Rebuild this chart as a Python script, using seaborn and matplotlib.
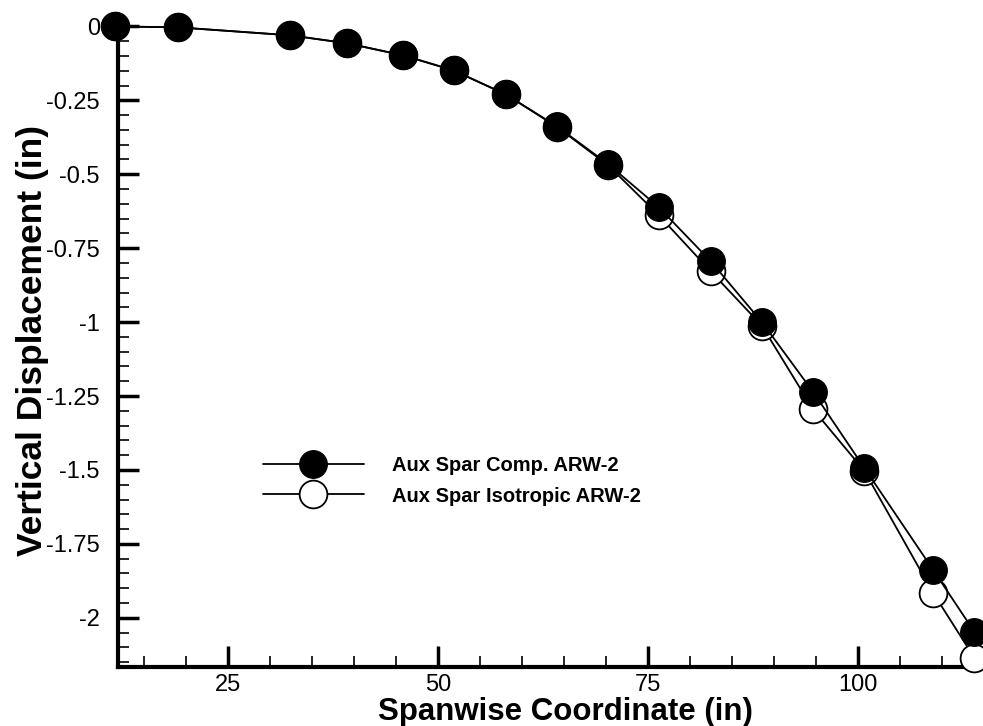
import numpy as np
import pandas as pd
import matplotlib
matplotlib.use('Agg')
import matplotlib.pyplot as plt
import seaborn as sns
from matplotlib.ticker import MultipleLocator, FixedLocator, FuncFormatter

# spanwise stations (in)
span = [11.6, 19.0, 32.4, 39.2, 45.9, 51.9, 58.1, 64.2, 70.3, 76.3, 82.5, 88.6, 94.7, 100.8, 109.0, 113.9]
# vertical displacement (in)
comp_disp = [0.0, -0.003, -0.030, -0.057, -0.098, -0.149, -0.230, -0.338, -0.466,
             -0.611, -0.794, -1.000, -1.236, -1.493, -1.838, -2.047]
iso_disp = [0.0, -0.003, -0.030, -0.057, -0.098, -0.149, -0.230, -0.340, -0.470,
            -0.638, -0.828, -1.012, -1.295, -1.503, -1.916, -2.135]

labels = ['Aux Spar Comp. ARW-2', 'Aux Spar Isotropic ARW-2']
y_ticks = [0, -0.25, -0.5, -0.75, -1, -1.25, -1.5, -1.75, -2]
x_ticks = [25, 50, 75, 100]

sns.set_style('ticks', {'axes.edgecolor': 'black', 'text.color': 'black',
                        'axes.labelcolor': 'black', 'xtick.color': 'black',
                        'ytick.color': 'black'})
plt.rcParams['font.family'] = ['Liberation Sans', 'DejaVu Sans']
plt.rcParams['axes.unicode_minus'] = False

fig = plt.figure(figsize=(9.83, 7.26), dpi=100)
ax = fig.add_axes([0.12, 0.081, 0.872, 0.883])

df_iso = pd.DataFrame({'x': span, 'y': iso_disp})
df_comp = pd.DataFrame({'x': span, 'y': comp_disp})

sns.lineplot(data=df_iso, x='x', y='y', ax=ax, color='black', lw=1.3,
             marker='o', markersize=20, markerfacecolor='white',
             markeredgecolor='black', markeredgewidth=1.3, label=labels[1],
             zorder=3, clip_on=False)
sns.lineplot(data=df_comp, x='x', y='y', ax=ax, color='black', lw=1.3,
             marker='o', markersize=20, markerfacecolor='black',
             markeredgecolor='black', label=labels[0], zorder=4, clip_on=False)

ax.set_xlim(11.9, 114)
ax.set_ylim(-2.167, 0.001)

ax.xaxis.set_major_locator(FixedLocator(x_ticks))
ax.xaxis.set_minor_locator(MultipleLocator(5))
ax.yaxis.set_major_locator(FixedLocator(y_ticks))
ax.yaxis.set_minor_locator(MultipleLocator(0.05))
ax.yaxis.set_major_formatter(FuncFormatter(lambda v, p: '%g' % v))
ax.xaxis.set_major_formatter(FuncFormatter(lambda v, p: '%g' % v))

for s in ['top', 'right']:
    ax.spines[s].set_visible(False)
for s in ['left', 'bottom']:
    ax.spines[s].set_linewidth(3)

ax.tick_params(which='major', direction='in', length=15, width=2.5, labelsize=17)
ax.tick_params(axis='y', which='major', pad=13)
ax.tick_params(axis='x', which='major', pad=5)
ax.tick_params(which='minor', direction='in', length=8, width=1.2)

ax.set_xlabel('Spanwise Coordinate (in)', fontsize=22.5, fontweight='bold')
ax.set_ylabel('Vertical Displacement (in)', fontsize=25.5, fontweight='bold')
ax.xaxis.set_label_coords(0.522, -0.047)
ax.yaxis.set_label_coords(-0.08, 0.51)

h, l = ax.get_legend_handles_labels()
order = [l.index(labels[0]), l.index(labels[1])]
ax.legend([h[i] for i in order], [l[i] for i in order], loc='upper left',
          bbox_to_anchor=(0.148, 0.357), frameon=False, handlelength=5,
          labelspacing=0.55, handletextpad=1.4,
          prop={'weight': 'bold', 'size': 14.5})

fig.savefig('out.png', dpi=100)
